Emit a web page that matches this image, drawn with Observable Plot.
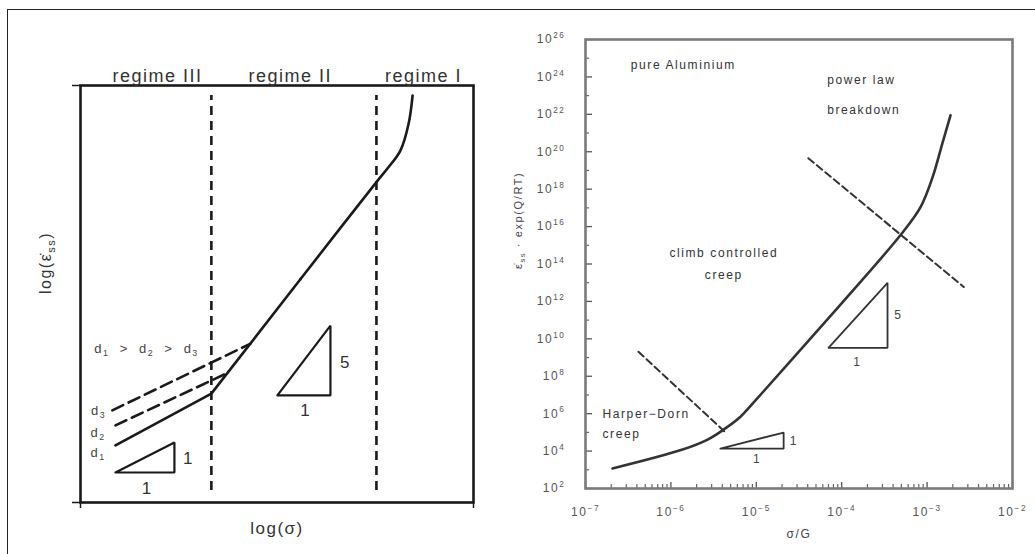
<!DOCTYPE html>
<html><head><meta charset="utf-8">
<script src="https://cdn.jsdelivr.net/npm/d3@7"></script>
<script src="https://cdn.jsdelivr.net/npm/@observablehq/plot@0.6"></script>
<style>
body{margin:0;background:#fff;}
#wrap{position:relative;width:1035px;height:554px;overflow:hidden;background:#fff;}
#border{position:absolute;left:7px;top:8.5px;width:1100px;height:600px;border-top:1.5px solid #222;border-left:1.5px solid #222;z-index:5;}
#left{position:absolute;left:0;top:0;}
#right{position:absolute;left:500px;top:0;}
</style></head><body>
<div id="wrap"><div id="border"></div><div id="left"></div><div id="right"></div></div>
<script>
const FONT = "'Liberation Sans', Arial, Helvetica, sans-serif";

// ---------- LEFT (schematic) data ----------
const regimeNames = ["regime III", "regime II", "regime I"];
const regimeLabelX = [1.96, 5.34, 8.73];
const regimeBoundX = [3.33, 7.53];
const boundYRange = [0.29, 9.76];
const lowCurveX = [0.89, 3.33, 5.60];
const lowCurveY = [1.37, 2.61, 5.36];
const highCurveX = [5.60, 7.56, 7.81, 8.14, 8.35, 8.45];
const highCurveY = [5.36, 7.72, 8.01, 8.44, 9.09, 9.76];
const d2X = [0.89, 3.77], d2Y = [1.85, 3.12];
const d3X = [0.81, 4.33], d3Y = [2.21, 3.81];
const triSmallX = [0.89, 2.39, 2.39, 0.89], triSmallY = [0.72, 0.72, 1.44, 0.72];
const triBigX = [5.01, 6.36, 6.36, 5.01], triBigY = [2.57, 2.57, 4.24, 2.57];
const leftSlopeText = ["1", "1", "5", "1"];
const leftSlopeX = [2.75, 1.70, 6.74, 5.73];
const leftSlopeY = [1.06, 0.34, 3.36, 2.21];
const dLabelText = ["d_{3}", "d_{2}", "d_{1}"];
const dLabelX = [0.46, 0.45, 0.45];
const dLabelY = [2.21, 1.68, 1.20];
const dOrderText = ["d_{1}\u00a0\u00a0>\u00a0\u00a0d_{2}\u00a0\u00a0>\u00a0\u00a0d_{3}"];
const dOrderX = [1.68], dOrderY = [3.69];

// ---------- RIGHT (pure Aluminium) data ----------
const creepSigmaG = [2.07e-7, 1.37e-6, 2.69e-6, 4.13e-6, 6.53e-6, 9.27e-6, 4.93e-5, 4.89e-4, 8.38e-4, 1.16e-3, 1.51e-3, 1.88e-3];
const creepRate   = [1.17e3, 1.2e4, 4.1e4, 1.4e5, 6.9e5, 3.86e6, 2.09e10, 3.55e15, 1.1e17, 4.37e18, 2.82e20, 8.9e21];
const plbDashX = [4.07e-5, 2.69e-3], plbDashY = [4.5e19, 5.9e12];
const hdDashX = [4.17e-7, 4.37e-6], hdDashY = [2.04e9, 9.8e4];
const rTriBigX = [7.0e-5, 3.44e-4, 3.44e-4, 7.0e-5], rTriBigY = [3.3e9, 3.3e9, 9.8e12, 3.3e9];
const rTriSmallX = [3.8e-6, 2.09e-5, 2.09e-5, 3.8e-6], rTriSmallY = [1.35e4, 1.35e4, 9.8e4, 1.35e4];
const rSlopeText = ["5", "1", "1", "1"];
const rSlopeX = [4.62e-4, 1.53e-4, 2.75e-5, 1.02e-5];
const rSlopeY = [1.9e11, 5.9e8, 3.2e4, 3.5e3];
const noteText = ["pure Aluminium", "power law", "breakdown", "Harper\u2212Dorn", "creep"];
const noteX = [3.39e-7, 6.76e-5, 6.76e-5, 1.58e-7, 1.58e-7];
const noteY = [4.1e24, 6.5e23, 1.6e22, 8.9e5, 7.6e4];
const noteCText = ["climb controlled", "creep"];
const noteCX = [4.17e-6, 4.17e-6];
const noteCY = [3.9e14, 2.6e13];
const xMajor = [1e-7, 1e-6, 1e-5, 1e-4, 1e-3, 1e-2];
const xMajorLabel = ["10^{\u22127}", "10^{\u22126}", "10^{\u22125}", "10^{\u22124}", "10^{\u22123}", "10^{\u22122}"];
const yMajorExp = [2, 4, 6, 8, 10, 12, 14, 16, 18, 20, 22, 24, 26];
const yMinorExp = [3, 5, 7, 9, 11, 13, 15, 17, 19, 21, 23, 25];
const xMinorMult = [2, 3, 4, 5, 6, 7, 8, 9];

const pts = (xs, ys, extra = {}) => xs.map((x, i) => ({x, y: ys[i], ...extra}));

// ---------- LEFT plot ----------
const leftPlot = Plot.plot({
  width: 500, height: 554,
  marginLeft: 80, marginRight: 27, marginTop: 85, marginBottom: 52,
  x: {domain: [0, 10]}, y: {domain: [0, 10]},
  style: {fontFamily: FONT, fontSize: "17px", background: "transparent", color: "#1a1a1a", letterSpacing: "1.5px"},
  marks: [
    Plot.axisX({ticks: [0, 10], tickFormat: () => "", tickSize: 6, label: null, strokeWidth: 1.5}),
    Plot.axisY({ticks: [0, 10], tickFormat: () => "", tickSize: 8, label: null, strokeWidth: 1.5}),
    Plot.ruleX(regimeBoundX, {x: d => d, y1: boundYRange[0], y2: boundYRange[1], strokeWidth: 2.6, strokeDasharray: "9,6"}),
    Plot.line(pts(lowCurveX, lowCurveY), {x: "x", y: "y", strokeWidth: 2.6}),
    Plot.line(pts(highCurveX, highCurveY), {x: "x", y: "y", strokeWidth: 2.6, curve: "catmull-rom"}),
    Plot.line(pts(d2X, d2Y), {x: "x", y: "y", strokeWidth: 2.6, strokeDasharray: "12,6"}),
    Plot.line(pts(d3X, d3Y), {x: "x", y: "y", strokeWidth: 2.6, strokeDasharray: "12,6"}),
    Plot.line(pts(triSmallX, triSmallY), {x: "x", y: "y", strokeWidth: 2.2, strokeLinejoin: "miter"}),
    Plot.line(pts(triBigX, triBigY), {x: "x", y: "y", strokeWidth: 2.2, strokeLinejoin: "miter"}),
    Plot.frame({strokeWidth: 2.6}),
    Plot.text(regimeNames, {x: (d, i) => regimeLabelX[i], text: d => d, frameAnchor: "top", dy: -16, fontSize: 18, fill: "#333"}),
    Plot.text(leftSlopeText, {x: (d, i) => leftSlopeX[i], y: (d, i) => leftSlopeY[i], text: d => d, fontSize: 17, fill: "#333"}),
    Plot.text(dLabelText, {x: (d, i) => dLabelX[i], y: (d, i) => dLabelY[i], text: d => d, fontSize: 13, fill: "#444"}),
    Plot.text(dOrderText, {x: (d, i) => dOrderX[i], y: (d, i) => dOrderY[i], text: d => d, fontSize: 13, fill: "#444"}),
    Plot.text(["log(\u03C3)"], {frameAnchor: "bottom", dy: 31, fontSize: 17, fill: "#333"}),
    Plot.text(["log(\u03B5\u0307_{ss})"], {frameAnchor: "left", dx: -35, rotate: -90, fontSize: 16, fill: "#333"})
  ]
});

// ---------- RIGHT plot ----------
const FW = 427, FH = 449;
const yMajor = yMajorExp.map(e => Math.pow(10, e));
const yMinor = yMinorExp.map(e => Math.pow(10, e));
const xMinor = [];
for (const m of xMajor.slice(0, -1)) for (const k of xMinorMult) xMinor.push(k * m);

const rightPlot = Plot.plot({
  width: 535, height: 554,
  marginLeft: 85, marginRight: 23, marginTop: 39, marginBottom: 66,
  x: {type: "log", domain: [1e-7, 1e-2]},
  y: {type: "log", domain: [1e2, 1e26]},
  style: {fontFamily: FONT, fontSize: "12px", background: "transparent", color: "#333", letterSpacing: "1.6px"},
  marks: [
    Plot.axisX(xMajor, {tickSize: 0, tickPadding: 19, tickFormat: (d, i) => xMajorLabel[xMajor.indexOf(d)], label: null, fontSize: 12, fill: "#555"}),
    Plot.axisY(yMajor, {tickSize: 0, tickPadding: 20, tickFormat: d => "10^{" + Math.round(Math.log10(d)) + "}", label: null, fontSize: 12, fill: "#555"}),
    Plot.tickY(yMajor, {y: d => d, insetRight: FW - 7, stroke: "#555", strokeWidth: 1.3}),
    Plot.tickY(yMinor, {y: d => d, insetRight: FW - 4, stroke: "#666", strokeWidth: 1.2}),
    Plot.tickX(xMajor, {x: d => d, insetTop: FH - 6, stroke: "#555", strokeWidth: 1.3}),
    Plot.tickX(xMinor, {x: d => d, insetTop: FH - 4, stroke: "#666", strokeWidth: 1.2}),
    Plot.frame({stroke: "#7a7a7a", strokeWidth: 2.6}),
    Plot.line(pts(creepSigmaG, creepRate), {x: "x", y: "y", strokeWidth: 2.6, curve: "catmull-rom"}),
    Plot.line(pts(plbDashX, plbDashY), {x: "x", y: "y", strokeWidth: 2, strokeDasharray: "7,4"}),
    Plot.line(pts(hdDashX, hdDashY), {x: "x", y: "y", strokeWidth: 2, strokeDasharray: "7,4"}),
    Plot.line(pts(rTriBigX, rTriBigY), {x: "x", y: "y", strokeWidth: 1.8, strokeLinejoin: "miter"}),
    Plot.line(pts(rTriSmallX, rTriSmallY), {x: "x", y: "y", strokeWidth: 1.8, strokeLinejoin: "miter"}),
    Plot.text(rSlopeText, {x: (d, i) => rSlopeX[i], y: (d, i) => rSlopeY[i], text: d => d, fontSize: 12, fill: "#444"}),
    Plot.text(noteText, {x: (d, i) => noteX[i], y: (d, i) => noteY[i], text: d => d, textAnchor: "start", fontSize: 12, fill: "#333"}),
    Plot.text(noteCText, {x: (d, i) => noteCX[i], y: (d, i) => noteCY[i], text: d => d, fontSize: 12, fill: "#333"}),
    Plot.text(["\u03C3/G"], {frameAnchor: "bottom", dy: 49, fontSize: 12, fill: "#444"}),
    Plot.text(["\u03B5\u0307_{ss}\u00a0\u00b7\u00a0exp(Q/RT)"], {frameAnchor: "left", dx: -67, dy: 5, rotate: -90, fontSize: 11, fill: "#444"})
  ]
});

document.getElementById("left").appendChild(leftPlot);
document.getElementById("right").appendChild(rightPlot);

// rich text: ^{...} superscript, _{...} subscript
function richify(root) {
  root.querySelectorAll("text").forEach(t => {
    const s = t.textContent;
    if (!/[_^]\{/.test(s)) return;
    const fs = parseFloat(getComputedStyle(t).fontSize) || 12;
    const parts = s.split(/([_^]\{[^}]*\})/).filter(p => p !== "");
    while (t.firstChild) t.removeChild(t.firstChild);
    let shift = 0;
    for (const p of parts) {
      const ts = document.createElementNS("http://www.w3.org/2000/svg", "tspan");
      let target = 0, txt = p, small = false;
      if (p.startsWith("^{")) { target = -0.42 * fs; txt = p.slice(2, -1); small = true; }
      else if (p.startsWith("_{")) { target = 0.28 * fs; txt = p.slice(2, -1); small = true; }
      const dy = target - shift;
      if (dy) ts.setAttribute("dy", dy.toFixed(2));
      shift = target;
      if (small) ts.setAttribute("font-size", (0.68 * fs).toFixed(1));
      ts.textContent = txt;
      t.appendChild(ts);
    }
  });
}
richify(leftPlot);
richify(rightPlot);
</script>
</body></html>
